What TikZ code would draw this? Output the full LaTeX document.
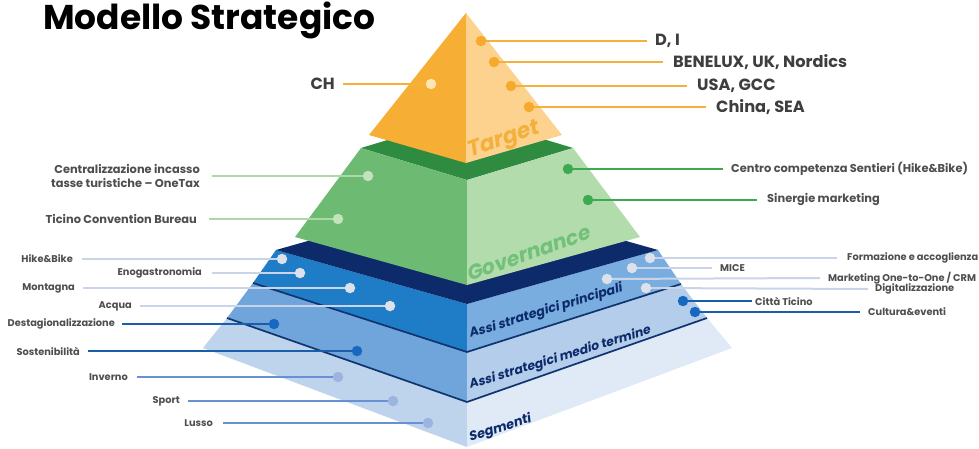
\documentclass[tikz,border=0pt]{standalone}
\usepackage{fontspec}
\setmainfont{Poppins}
\newfontfamily\layerfont[FakeSlant=0.2]{Poppins}
\definecolor{tgtL}{HTML}{F7AE34}
\definecolor{tgtR}{HTML}{FCD28E}
\definecolor{tgtTxt}{HTML}{F4B03C}
\definecolor{tgtLine}{HTML}{F6B13A}
\definecolor{tgtDot}{HTML}{F5AA2E}
\definecolor{chDot}{HTML}{FCE6B6}
\definecolor{grTop}{HTML}{2E8B3F}
\definecolor{grL}{HTML}{6DBB72}
\definecolor{grR}{HTML}{B3DCAD}
\definecolor{grTxt}{HTML}{72C07A}
\definecolor{grPale}{HTML}{AED6A8}
\definecolor{grPaleDot}{HTML}{C3E3BE}
\definecolor{grDark}{HTML}{3DAA4F}
\definecolor{navy}{HTML}{0D2B6B}
\definecolor{prL}{HTML}{1F7CC6}
\definecolor{prR}{HTML}{79ADDF}
\definecolor{meL}{HTML}{6FA5DA}
\definecolor{meR}{HTML}{B3CDEA}
\definecolor{seL}{HTML}{BED3EC}
\definecolor{seR}{HTML}{E0EAF6}
\definecolor{sepc}{HTML}{0F3470}
\definecolor{paleLine}{HTML}{CAD4E8}
\definecolor{paleDot}{HTML}{DCE1EB}
\definecolor{strongLine}{HTML}{1A5EAA}
\definecolor{strongDot}{HTML}{1768C0}
\definecolor{periLine}{HTML}{6791D2}
\definecolor{periDot}{HTML}{9DB3E0}
\definecolor{labc}{HTML}{4E4E4E}
\definecolor{tlabc}{HTML}{3E3E3E}
\tikzset{
  x=1pt, y=-1pt,
  sepline/.style={draw=sepc, line width=1.7pt, line join=round},
  dotnode/.style={circle, inner sep=0pt, minimum size=10.5pt, draw=none},
  tlab/.style={inner sep=0pt, text=tlabc, font=\fontsize{16.2}{19}\selectfont\bfseries},
  glab/.style={inner sep=0pt, text=labc, font=\fontsize{11.4}{14}\selectfont\bfseries},
  blab/.style={inner sep=0pt, text=labc, font=\fontsize{9.8}{11}\selectfont\bfseries},
  layertxt/.style={anchor=base west, inner sep=0pt},
  thickconn/.style={line width=2.8pt},
  thinconn/.style={line width=2pt},
}
\begin{document}
\begin{tikzpicture}
\fill[white] (0,0) rectangle (979,449);
\useasboundingbox (0,0) rectangle (979,449);
% ---------- corner points ----------
\coordinate (A)   at (466,13);
\coordinate (TL)  at (369,135);
\coordinate (TF)  at (466,163);
\coordinate (TR)  at (562,135);
\coordinate (GTL) at (361,148);
\coordinate (GTF) at (467,180);
\coordinate (GTR) at (573,148);
\coordinate (GTB) at (467,116);
\coordinate (GBL) at (295,237);
\coordinate (GBF) at (467,285);
\coordinate (GBR) at (640,237);
\coordinate (NL)  at (276,250);
\coordinate (NF)  at (467,304);
\coordinate (NR)  at (658,250);
\coordinate (NB)  at (467,196);
\coordinate (PL)  at (253,283);
\coordinate (PF)  at (467,352);
\coordinate (PR)  at (681,284);
\coordinate (ML)  at (227,318);
\coordinate (MF)  at (467,402);
\coordinate (MR)  at (707,318);
\coordinate (SL)  at (203,348);
\coordinate (SF)  at (467,447);
\coordinate (SR)  at (732,348);
% ---------- blue stack ----------
\fill[seL] (ML) -- (MF) -- (SF) -- (SL) -- cycle;
\fill[seR] (MF) -- (MR) -- (SR) -- (SF) -- cycle;
\fill[meL] (PL) -- (PF) -- (MF) -- (ML) -- cycle;
\fill[meR] (PF) -- (PR) -- (MR) -- (MF) -- cycle;
\fill[prL] (NL) -- (NF) -- (PF) -- (PL) -- cycle;
\fill[prR] (NF) -- (NR) -- (PR) -- (PF) -- cycle;
\fill[navy] (NL) -- (NF) -- (NR) -- (NB) -- cycle;
\draw[sepline] (PL) -- (PF) -- (PR);
\draw[sepline] (ML) -- (MF) -- (MR);
% ---------- green frustum ----------
\fill[grTop] (GTL) -- (GTF) -- (GTR) -- (GTB) -- cycle;
\fill[grL] (GTL) -- (GTF) -- (GBF) -- (GBL) -- cycle;
\fill[grR] (GTF) -- (GTR) -- (GBR) -- (GBF) -- cycle;
% ---------- target pyramid ----------
\fill[tgtL] (A) -- (TL) -- (TF) -- cycle;
\fill[tgtR] (A) -- (TF) -- (TR) -- cycle;
% ---------- layer names ----------
\node[layertxt, text=tgtTxt, font=\fontsize{22}{24}\layerfont\bfseries, rotate=19] (nTarget) at (469,158) {Target};
\node[layertxt, text=grTxt, font=\fontsize{20.5}{22}\layerfont\bfseries, rotate=19.5] (nGov) at (469,282) {Governance};
\node[layertxt, text=navy, font=\fontsize{12.8}{14}\layerfont\bfseries, rotate=17] (nPrinc) at (470,338) {Assi strategici principali};
\node[layertxt, text=navy, font=\fontsize{12.5}{14}\layerfont\bfseries, rotate=17] (nMedio) at (470,389) {Assi strategici medio termine};
\node[layertxt, text=navy, font=\fontsize{13}{14}\layerfont\bfseries, rotate=18] (nSeg) at (470,442) {Segmenti};
% ---------- title ----------
\node[anchor=base west, inner sep=0pt, font=\fontsize{34.4}{40}\selectfont\bfseries, text=black] (title) at (43,30) {Modello Strategico};
% ---------- labels ----------
\node[tlab, anchor=west] (lDI)  at (655,41)  {D, I};
\node[tlab, anchor=west] (lBen) at (673,62)  {BENELUX, UK, Nordics};
\node[tlab, anchor=west] (lUsa) at (697,86)  {USA, GCC};
\node[tlab, anchor=west] (lChi) at (716,107) {China, SEA};
\node[tlab, anchor=east] (lCH)  at (335,84)  {CH};
\node[glab, anchor=east, align=right] (lCen) at (200,176) {Centralizzazione incasso\\tasse turistiche – OneTax};
\node[glab, anchor=east] (lTic) at (197,219) {Ticino Convention Bureau};
\node[glab, anchor=west] (lSen) at (731,169) {Centro competenza Sentieri (Hike\&Bike)};
\node[glab, anchor=west] (lSin) at (767,200) {Sinergie marketing};
\node[blab, anchor=east] (lHik) at (73,259)  {Hike\&Bike};
\node[blab, anchor=east] (lEno) at (202,273) {Enogastronomia};
\node[blab, anchor=east] (lMon) at (75,288)  {Montagna};
\node[blab, anchor=east] (lAcq) at (132,306) {Acqua};
\node[blab, anchor=east] (lDes) at (115,324) {Destagionalizzazione};
\node[blab, anchor=east] (lSos) at (80,351)  {Sostenibilità};
\node[blab, anchor=east] (lInv) at (128,377) {Inverno};
\node[blab, anchor=east] (lSpo) at (180,401) {Sport};
\node[blab, anchor=east] (lLus) at (213,423) {Lusso};
\node[blab, anchor=west] (lFor) at (847,258) {Formazione e accoglienza};
\node[blab, anchor=west] (lMic) at (720,268) {MICE};
\node[blab, anchor=west] (lMar) at (828,278) {Marketing One-to-One / CRM};
\node[blab, anchor=west] (lDig) at (875,289) {Digitalizzazione};
\node[blab, anchor=west] (lCit) at (755,301) {Città Ticino};
\node[blab, anchor=west] (lCul) at (868,312) {Cultura\&eventi};
% ---------- dot positions ----------
\coordinate (dDI)  at (481,41);
\coordinate (dBen) at (494,62);
\coordinate (dUsa) at (511,86);
\coordinate (dChi) at (529,107);
\coordinate (dCH)  at (431,84);
\coordinate (dCen) at (368,176);
\coordinate (dTic) at (338,219);
\coordinate (dSen) at (568,169);
\coordinate (dSin) at (588,200);
\coordinate (dHik) at (282,259);
\coordinate (dEno) at (300,273);
\coordinate (dMon) at (350,288);
\coordinate (dAcq) at (390,306);
\coordinate (dDes) at (274,324);
\coordinate (dSos) at (357,351);
\coordinate (dInv) at (338,377);
\coordinate (dSpo) at (393,401);
\coordinate (dLus) at (428,423);
\coordinate (dFor) at (650,258);
\coordinate (dMic) at (632,268);
\coordinate (dMar) at (607,279);
\coordinate (dDig) at (646,288);
\coordinate (dCit) at (683,301);
\coordinate (dCul) at (695,312);
% ---------- connectors ----------
\draw[thickconn, tgtLine] (dDI)  -- ([xshift=-8pt]lDI.west);
\draw[thickconn, tgtLine] (dBen) -- ([xshift=-10pt]lBen.west);
\draw[thickconn, tgtLine] (dUsa) -- ([xshift=-10pt]lUsa.west);
\draw[thickconn, tgtLine] (dChi) -- ([xshift=-10pt]lChi.west);
\draw[thickconn, tgtLine] (dCH)  -- ([xshift=8pt]lCH.east);
\draw[thickconn, grPale] (dCen) -- ([xshift=12pt]lCen.east);
\draw[thickconn, grPale] (dTic) -- ([xshift=12pt]lTic.east);
\draw[thickconn, grDark] (dSen) -- ([xshift=-8pt]lSen.west);
\draw[thickconn, grDark] (dSin) -- ([xshift=-10pt]lSin.west);
\draw[thinconn, paleLine] (dHik) -- ([xshift=9pt]lHik.east);
\draw[thinconn, paleLine] (dEno) -- ([xshift=10pt]lEno.east);
\draw[thinconn, paleLine] (dMon) -- ([xshift=8pt]lMon.east);
\draw[thinconn, paleLine] (dAcq) -- ([xshift=8pt]lAcq.east);
\draw[thinconn, strongLine] (dDes) -- ([xshift=7pt]lDes.east);
\draw[thinconn, strongLine] (dSos) -- ([xshift=8pt]lSos.east);
\draw[thinconn, periLine] (dInv) -- ([xshift=9pt]lInv.east);
\draw[thinconn, periLine] (dSpo) -- ([xshift=8pt]lSpo.east);
\draw[thinconn, periLine] (dLus) -- ([xshift=10pt]lLus.east);
\draw[thinconn, paleLine] (dFor) -- ([xshift=-10pt]lFor.west);
\draw[thinconn, paleLine] (dMic) -- ([xshift=-8pt]lMic.west);
\draw[thinconn, paleLine] (dMar) -- ([xshift=-8pt]lMar.west);
\draw[thinconn, paleLine] (dDig) -- ([xshift=-7pt]lDig.west);
\draw[thinconn, strongLine] (dCit) -- ([xshift=-3pt]lCit.west);
\draw[thinconn, strongLine] (dCul) -- ([xshift=-8pt]lCul.west);
% ---------- dots ----------
\node[dotnode, fill=tgtDot] (oDI)  at (dDI)  {};
\node[dotnode, fill=tgtDot] (oBen) at (dBen) {};
\node[dotnode, fill=tgtDot] (oUsa) at (dUsa) {};
\node[dotnode, fill=tgtDot] (oChi) at (dChi) {};
\node[dotnode, fill=chDot]  (oCH)  at (dCH)  {};
\node[dotnode, fill=grPaleDot] (oCen) at (dCen) {};
\node[dotnode, fill=grPaleDot] (oTic) at (dTic) {};
\node[dotnode, fill=grDark] (oSen) at (dSen) {};
\node[dotnode, fill=grDark] (oSin) at (dSin) {};
\node[dotnode, fill=paleDot] (oHik) at (dHik) {};
\node[dotnode, fill=paleDot] (oEno) at (dEno) {};
\node[dotnode, fill=paleDot] (oMon) at (dMon) {};
\node[dotnode, fill=paleDot] (oAcq) at (dAcq) {};
\node[dotnode, fill=strongDot] (oDes) at (dDes) {};
\node[dotnode, fill=strongDot] (oSos) at (dSos) {};
\node[dotnode, fill=periDot] (oInv) at (dInv) {};
\node[dotnode, fill=periDot] (oSpo) at (dSpo) {};
\node[dotnode, fill=periDot] (oLus) at (dLus) {};
\node[dotnode, fill=paleDot] (oFor) at (dFor) {};
\node[dotnode, fill=paleDot] (oMic) at (dMic) {};
\node[dotnode, fill=paleDot] (oMar) at (dMar) {};
\node[dotnode, fill=paleDot] (oDig) at (dDig) {};
\node[dotnode, fill=strongDot] (oCit) at (dCit) {};
\node[dotnode, fill=strongDot] (oCul) at (dCul) {};
\end{tikzpicture}
\end{document}
